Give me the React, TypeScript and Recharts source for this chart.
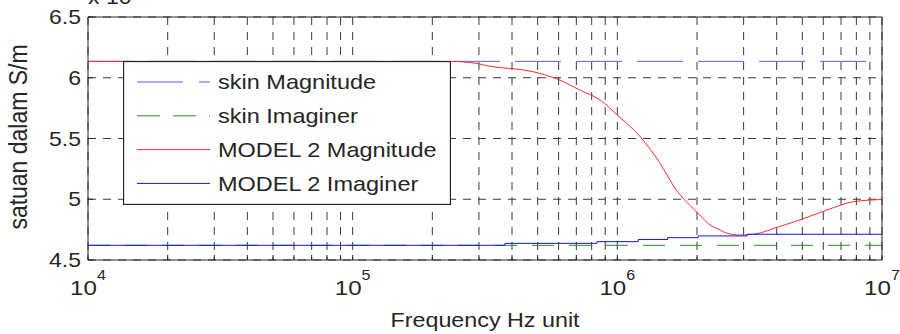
import { LineChart, Line, XAxis, YAxis, CartesianGrid, Legend } from "recharts";

// frequency axis (Hz), log scale with MATLAB-style minor grid
const xTicks = [
  1e4, 2e4, 3e4, 4e4, 5e4, 6e4, 7e4, 8e4, 9e4,
  1e5, 2e5, 3e5, 4e5, 5e5, 6e5, 7e5, 8e5, 9e5,
  1e6, 2e6, 3e6, 4e6, 5e6, 6e6, 7e6, 8e6, 9e6, 1e7
];
const yTicks = [4.5, 5, 5.5, 6, 6.5];

const seriesNames = ["skin Magnitude", "skin Imaginer", "MODEL 2 Magnitude", "MODEL 2 Imaginer"];

// skin (flat reference values)
const skinFreq = [1e4, 1e7];
const skinMagnitude = [6.135, 6.135];
const skinImaginer = [4.621, 4.621];

// MODEL 2 magnitude
const modelMagFreq = [
  1e4, 1e5, 2.3e5, 2.95e5, 3.2e5, 4.8e5, 6e5, 7.2e5, 8.6e5, 1e6, 1.22e6, 1.45e6, 1.67e6,
  1.88e6, 2.05e6, 2.24e6, 2.4e6, 2.6e6, 2.9e6, 3.2e6, 3.5e6, 3.9e6, 4.9e6, 6.5e6, 7.8e6, 1e7
];
const modelMagnitude = [
  6.135, 6.135, 6.135, 6.118, 6.1, 6.05, 5.985, 5.9, 5.817, 5.693, 5.515, 5.296, 5.076,
  4.95, 4.87, 4.788, 4.755, 4.72, 4.706, 4.71, 4.725, 4.76, 4.83, 4.928, 4.98, 4.998
];

// MODEL 2 imaginary part (stepped)
const modelImagFreq = [1e4, 3.76e5, 8.37e5, 1.2e6, 1.55e6, 2.02e6, 3.09e6, 1e7];
const modelImaginer = [4.621, 4.637, 4.651, 4.669, 4.684, 4.698, 4.712, 4.712];

const toRows = (fs: number[], vs: number[]) => fs.map((f, i) => ({ f, v: vs[i] }));

const FONT = '"Liberation Sans", Arial, Helvetica, sans-serif';
const INK = "#262626";
const SX = 1.15;

const styles = [
  { color: "#5a5aff", dash: "46 15", legendDash: "46 16" },
  { color: "#2a8c2a", dash: "22 15", legendDash: "23 13" },
  { color: "#ff2a2a", dash: undefined, legendDash: undefined },
  { color: "#1414e6", dash: undefined, legendDash: undefined }
];

const YTick = ({ x, y, payload }: any) => (
  <g transform={`translate(${x},${y})`}>
    <text transform={`scale(${SX},1)`} textAnchor="end" dy="0.36em" fontSize={20} fill={INK} fontFamily={FONT}>
      {String(payload.value)}
    </text>
  </g>
);

const XTick = ({ x, y, payload }: any) => {
  const lg = Math.log10(payload.value);
  const exp = Math.round(lg);
  if (Math.abs(lg - exp) > 1e-6) return <g />;
  return (
    <g transform={`translate(${x},${y + 38})`}>
      <text transform={`scale(${SX},1)`} textAnchor="middle" fontSize={21} fill={INK} fontFamily={FONT}>
        10
        <tspan fontSize={14} dy={-15}>{exp}</tspan>
      </text>
    </g>
  );
};

const NoTick = () => <g />;

const LegendBox = () => (
  <svg width={328} height={144} style={{ display: "block" }}>
    <rect x={0.5} y={0.5} width={327} height={143} fill="#fff" stroke={INK} strokeWidth={1.3} />
    {seriesNames.map((name, i) => {
      const cy = 21 + i * 33.8;
      return (
        <g key={name}>
          <line x1={14} x2={87} y1={cy} y2={cy} stroke={styles[i].color} strokeWidth={1} strokeDasharray={styles[i].legendDash} />
          <text transform={`translate(95,${cy}) scale(1.12,1)`} dy="0.35em" fontSize={21} fill={INK} fontFamily={FONT}>
            {name}
          </text>
        </g>
      );
    })}
  </svg>
);

const series = [
  toRows(skinFreq, skinMagnitude),
  toRows(skinFreq, skinImaginer),
  toRows(modelMagFreq, modelMagnitude),
  toRows(modelImagFreq, modelImaginer)
];

export default function App() {
  return (
    <div style={{ position: "absolute", left: 0, top: 0, width: 900, height: 334, background: "#fff" }}>
      <LineChart width={900} height={334} margin={{ top: 7, right: 0, bottom: 14, left: 0 }}>
        <CartesianGrid stroke="#3a3a3a" strokeDasharray="8 7" strokeWidth={1} />
        <XAxis
          dataKey="f"
          type="number"
          scale="log"
          domain={[1e4, 1e7]}
          allowDataOverflow
          ticks={xTicks}
          interval={0}
          height={60}
          tickSize={-5}
          tick={XTick}
          stroke={INK}
          label={{
            content: () => (
              <text transform={`translate(485,327) scale(1.11,1)`} textAnchor="middle" fontSize={21} fill={INK} fontFamily={FONT}>
                Frequency Hz unit
              </text>
            )
          }}
        />
        <XAxis
          xAxisId="top"
          orientation="top"
          type="number"
          scale="log"
          domain={[1e4, 1e7]}
          allowDataOverflow
          ticks={xTicks}
          interval={0}
          height={10}
          tickSize={-5}
          tick={NoTick}
          stroke={INK}
          label={{
            content: () => (
              <text transform={`translate(88,4) scale(${SX},1)`} fontSize={20} fill={INK} fontFamily={FONT}>
                x 10
              </text>
            )
          }}
        />
        <YAxis
          type="number"
          domain={[4.5, 6.5]}
          ticks={yTicks}
          interval={0}
          width={88}
          tickSize={-5}
          tickMargin={12}
          tick={YTick}
          stroke={INK}
          label={{
            content: () => (
              <text transform="translate(27,137) rotate(-90) scale(1,1.1)" textAnchor="middle" fontSize={23} fill={INK} fontFamily={FONT}>
                satuan dalam S/m
              </text>
            )
          }}
        />
        <YAxis
          yAxisId="right"
          orientation="right"
          type="number"
          domain={[4.5, 6.5]}
          ticks={yTicks}
          interval={0}
          width={18}
          tickSize={-5}
          tick={NoTick}
          stroke={INK}
        />
        <Legend
          layout="vertical"
          align="center"
          verticalAlign="middle"
          wrapperStyle={{ left: 123, top: 61, width: 328, height: 144 }}
          content={() => <LegendBox />}
        />
        {series.map((rows, i) => (
          <Line
            key={seriesNames[i]}
            name={seriesNames[i]}
            data={rows}
            dataKey="v"
            type={i === 3 ? "stepAfter" : i === 2 ? "monotone" : "linear"}
            stroke={styles[i].color}
            strokeWidth={1}
            strokeDasharray={styles[i].dash}
            dot={false}
            activeDot={false}
            isAnimationActive={false}
          />
        ))}
      </LineChart>
    </div>
  );
}
